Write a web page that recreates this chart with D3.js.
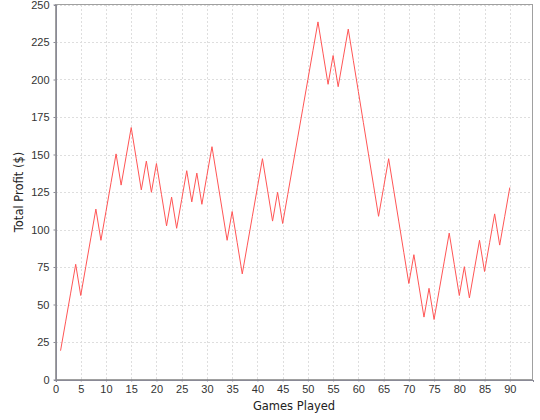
<!DOCTYPE html>
<html>
<head>
<meta charset="utf-8">
<script src="https://cdn.jsdelivr.net/npm/d3@7"></script>
<style>
  html, body { margin: 0; padding: 0; background: #ffffff; }
  svg { display: block; }
</style>
</head>
<body>
<script>
// ---- data ----
const games = d3.range(1, 91);
const profit = [
  19.2, 38.4, 57.6, 76.8, 56.0, 75.2, 94.4, 113.6, 92.8, 112.0,
  131.2, 150.4, 129.6, 148.8, 168.0, 147.2, 126.4, 145.6, 124.8, 144.0,
  123.2, 102.4, 121.6, 100.8, 120.0, 139.2, 118.4, 137.6, 116.8, 136.0,
  155.2, 134.4, 113.6, 92.8, 112.0, 91.2, 70.4, 89.6, 108.8, 128.0,
  147.2, 126.4, 105.6, 124.8, 104.0, 123.2, 142.4, 161.6, 180.8, 200.0,
  219.2, 238.4, 217.6, 196.8, 216.0, 195.2, 214.4, 233.6, 212.8, 192.0,
  171.2, 150.4, 129.6, 108.8, 128.0, 147.2, 126.4, 105.6, 84.8, 64.0,
  83.2, 62.4, 41.6, 60.8, 40.0, 59.2, 78.4, 97.6, 76.8, 56.0,
  75.2, 54.4, 73.6, 92.8, 72.0, 91.2, 110.4, 89.6, 108.8, 128.0
];
const xTicks = d3.range(0, 91, 5);
const yTicks = d3.range(0, 251, 25);
const xLabel = "Games Played";
const yLabel = "Total Profit ($)";

// ---- layout ----
const W = 540, H = 420;
const pLeft = 55.5, pRight = 532.5, pTop = 4.5, pBottom = 379.5;

const svg = d3.select("body").append("svg")
  .attr("width", W).attr("height", H)
  .style("font-family", "'DejaVu Sans', sans-serif");

const x = d3.scaleLinear().domain([0, 94.5]).range([pLeft, pRight]);
const y = d3.scaleLinear().domain([0, 250]).range([pBottom, pTop]);

// background
svg.append("rect").attr("x", pLeft).attr("y", pTop)
  .attr("width", pRight - pLeft).attr("height", pBottom - pTop)
  .attr("fill", "#ffffff");

// gridlines
const grid = svg.append("g").attr("stroke", "#dedede").attr("stroke-width", 1)
  .attr("stroke-dasharray", "2,2").attr("shape-rendering", "crispEdges");
grid.selectAll("line.v").data(xTicks).join("line")
  .attr("x1", d => Math.round(x(d)) + 0.5).attr("x2", d => Math.round(x(d)) + 0.5)
  .attr("y1", pTop).attr("y2", pBottom);
grid.selectAll("line.h").data(yTicks).join("line")
  .attr("y1", d => Math.round(y(d)) + 0.5).attr("y2", d => Math.round(y(d)) + 0.5)
  .attr("x1", pLeft).attr("x2", pRight);

// outline
svg.append("rect").attr("x", pLeft).attr("y", pTop)
  .attr("width", pRight - pLeft).attr("height", pBottom - pTop)
  .attr("fill", "none").attr("stroke", "#a0a0a0").attr("stroke-width", 1)
  .attr("shape-rendering", "crispEdges");

// axes
const xAxis = d3.axisBottom(x).tickValues(xTicks).tickSize(2).tickPadding(4).tickFormat(d3.format("d"));
const yAxis = d3.axisLeft(y).tickValues(yTicks).tickSize(2).tickPadding(4).tickFormat(d3.format("d"));

const gx = svg.append("g").attr("transform", `translate(0,${pBottom})`).call(xAxis);
const gy = svg.append("g").attr("transform", `translate(${pLeft},0)`).call(yAxis);
[gx, gy].forEach(g => {
  g.select(".domain").attr("stroke", "#8a8a96").attr("shape-rendering", "crispEdges");
  g.selectAll(".tick line").attr("stroke", "#8a8a96");
  g.selectAll(".tick text").attr("fill", "#333333")
    .style("font-family", "'Liberation Sans', sans-serif").style("font-size", "11px");
});

// axis labels
svg.append("text").attr("x", (pLeft + pRight) / 2).attr("y", 410)
  .attr("text-anchor", "middle").attr("fill", "#222")
  .style("font-size", "11.5px").text(xLabel);
svg.append("text")
  .attr("transform", `translate(23,${(pTop + pBottom) / 2}) rotate(-90)`)
  .attr("text-anchor", "middle").attr("fill", "#222")
  .style("font-size", "11.5px").text(yLabel);

// line
const line = d3.line().x((d, i) => x(games[i])).y(d => y(d));
svg.append("path").datum(profit)
  .attr("fill", "none").attr("stroke", "#ff5555").attr("stroke-width", 1)
  .attr("d", line);
</script>
</body>
</html>
